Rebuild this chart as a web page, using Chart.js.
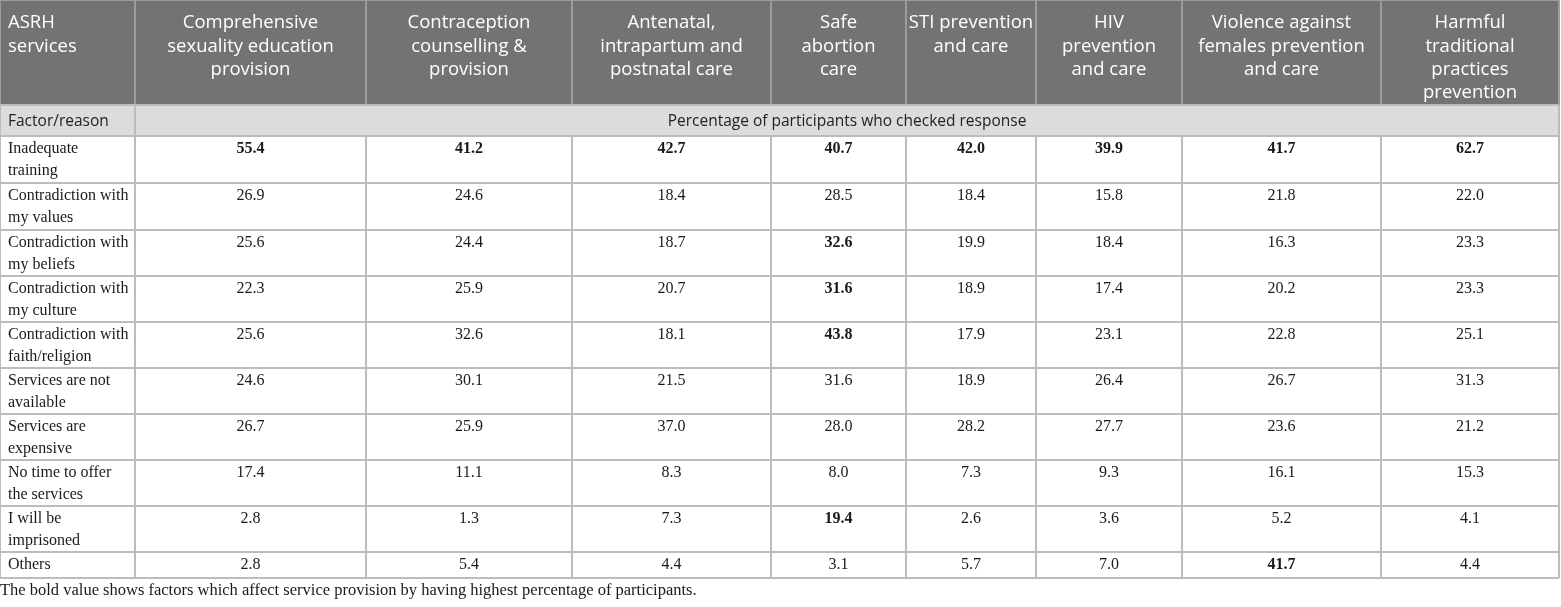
<!DOCTYPE html>
<html>
<head>
<meta charset="utf-8">
<script src="https://cdn.jsdelivr.net/npm/chart.js@4.4.1/dist/chart.umd.min.js"></script>
<style>
  html, body { margin: 0; padding: 0; background: #fff; }
  #wrap { width: 1561px; height: 607px; }
</style>
</head>
<body>
<div id="wrap"><canvas id="tbl" width="1561" height="607"></canvas></div>
<script>
// ---- table content ----
const cornerLabel = 'ASRH\nservices';
const services = [
  'Comprehensive\nsexuality education\nprovision',
  'Contraception\ncounselling &\nprovision',
  'Antenatal,\nintrapartum and\npostnatal care',
  'Safe\nabortion\ncare',
  'STI prevention\nand care',
  'HIV\nprevention\nand care',
  'Violence against\nfemales prevention\nand care',
  'Harmful\ntraditional\npractices\nprevention'
];
const rowHeaderLabel = 'Factor/reason';
const spanLabel = 'Percentage of participants who checked response';
const factors = [
  'Inadequate\ntraining',
  'Contradiction with\nmy values',
  'Contradiction with\nmy beliefs',
  'Contradiction with\nmy culture',
  'Contradiction with\nfaith/religion',
  'Services are not\navailable',
  'Services are\nexpensive',
  'No time to offer\nthe services',
  'I will be\nimprisoned',
  'Others'
];

// percentage per factor, one array per service
const cse           = [55.4, 26.9, 25.6, 22.3, 25.6, 24.6, 26.7, 17.4, 2.8, 2.8];
const contraception = [41.2, 24.6, 24.4, 25.9, 32.6, 30.1, 25.9, 11.1, 1.3, 5.4];
const antenatal     = [42.7, 18.4, 18.7, 20.7, 18.1, 21.5, 37.0, 8.3, 7.3, 4.4];
const safeAbortion  = [40.7, 28.5, 32.6, 31.6, 43.8, 31.6, 28.0, 8.0, 19.4, 3.1];
const sti           = [42.0, 18.4, 19.9, 18.9, 17.9, 18.9, 28.2, 7.3, 2.6, 5.7];
const hiv           = [39.9, 15.8, 18.4, 17.4, 23.1, 26.4, 27.7, 9.3, 3.6, 7.0];
const violence      = [41.7, 21.8, 16.3, 20.2, 22.8, 26.7, 23.6, 16.1, 5.2, 41.7];
const harmful       = [62.7, 22.0, 23.3, 23.3, 25.1, 31.3, 21.2, 15.3, 4.1, 4.4];

// [factor row, service column] printed in bold
const boldCells = [
  [0, 0], [0, 1], [0, 2], [0, 3], [0, 4], [0, 5], [0, 6], [0, 7],
  [2, 3], [3, 3], [4, 3], [8, 3], [9, 6]
];
const footnote = 'The bold value shows factors which affect service provision by having highest percentage of participants.';

const columns = [cse, contraception, antenatal, safeAbortion, sti, hiv, violence, harmful];

// ---- layout (relative units) ----
const colWidths = [135, 231, 206, 199, 135, 130, 146, 199, 178];
const rowHeights = [105, 31, 47, 47, 46, 46, 46, 46, 46, 46, 46, 26];

const cum = arr => arr.reduce((acc, w) => { acc.push(acc[acc.length - 1] + w); return acc; }, [0]);
const colEdges = cum(colWidths);
const rowEdges = cum(rowHeights);
const totalW = colEdges[colEdges.length - 1];
const totalH = rowEdges[rowEdges.length - 1];

const headFont = '18.5px "Open Sans"';
const subFont = '15.5px "Open Sans"';
const bodyFont = '16px "Liberation Serif"';
const bodyBold = 'bold 16px "Liberation Serif"';

const isBold = (r, c) => boldCells.some(b => b[0] === r && b[1] === c);

const tablePlugin = {
  id: 'tableCells',
  afterDraw(chart) {
    const { ctx, scales: { x, y } } = chart;
    const px = v => Math.round(x.getPixelForValue(v));
    const py = v => Math.round(y.getPixelForValue(v));
    const left = px(0), right = px(totalW);
    ctx.save();

    // backgrounds
    ctx.fillStyle = '#737373';
    ctx.fillRect(left, py(rowEdges[0]), right - left, py(rowEdges[1]) - py(rowEdges[0]));
    ctx.fillStyle = '#dcdcdc';
    ctx.fillRect(left, py(rowEdges[1]), right - left, py(rowEdges[2]) - py(rowEdges[1]));

    // grid lines
    ctx.lineWidth = 2;
    ctx.strokeStyle = '#9c9c9c';
    colEdges.forEach(e => {
      ctx.beginPath(); ctx.moveTo(px(e), py(rowEdges[0])); ctx.lineTo(px(e), py(rowEdges[1])); ctx.stroke();
    });
    ctx.beginPath(); ctx.moveTo(left, py(rowEdges[0])); ctx.lineTo(right, py(rowEdges[0])); ctx.stroke();

    ctx.strokeStyle = '#bcbcbc';
    [0, 1, colEdges.length - 1].forEach(i => {
      ctx.beginPath(); ctx.moveTo(px(colEdges[i]), py(rowEdges[1])); ctx.lineTo(px(colEdges[i]), py(rowEdges[2])); ctx.stroke();
    });
    colEdges.forEach(e => {
      ctx.beginPath(); ctx.moveTo(px(e), py(rowEdges[2])); ctx.lineTo(px(e), py(totalH)); ctx.stroke();
    });
    rowEdges.slice(1).forEach(e => {
      ctx.beginPath(); ctx.moveTo(left, py(e)); ctx.lineTo(right, py(e)); ctx.stroke();
    });

    // header text
    ctx.textBaseline = 'middle';
    ctx.font = headFont;
    ctx.fillStyle = '#ffffff';
    const headTop = py(rowEdges[0]);
    cornerLabel.split('\n').forEach((ln, i) => {
      ctx.textAlign = 'left';
      ctx.fillText(ln, px(colEdges[0]) + 8, headTop + 23 + i * 23.3);
    });
    services.forEach((s, c) => {
      const cx = (px(colEdges[c + 1]) + px(colEdges[c + 2])) / 2;
      s.split('\n').forEach((ln, i) => {
        ctx.textAlign = 'center';
        ctx.fillText(ln, cx, headTop + 23 + i * 23.3);
      });
    });

    // sub-header row
    ctx.font = subFont;
    ctx.fillStyle = '#222222';
    const subMid = (py(rowEdges[1]) + py(rowEdges[2])) / 2 + 1;
    ctx.textAlign = 'left';
    ctx.fillText(rowHeaderLabel, px(colEdges[0]) + 8, subMid);
    ctx.textAlign = 'center';
    ctx.fillText(spanLabel, (px(colEdges[1]) + right) / 2, subMid);

    // body
    factors.forEach((f, r) => {
      const top = py(rowEdges[r + 2]);
      ctx.font = bodyFont;
      ctx.fillStyle = '#1a1a1a';
      ctx.textAlign = 'left';
      f.split('\n').forEach((ln, i) => ctx.fillText(ln, px(colEdges[0]) + 8, top + 13 + i * 22));
      columns.forEach((col, c) => {
        ctx.font = isBold(r, c) ? bodyBold : bodyFont;
        ctx.textAlign = 'center';
        ctx.fillText(col[r].toFixed(1), (px(colEdges[c + 1]) + px(colEdges[c + 2])) / 2, top + 13);
      });
    });

    // footnote
    ctx.font = '16.5px "Liberation Serif"';
    ctx.fillStyle = '#1a1a1a';
    ctx.textAlign = 'left';
    ctx.fillText(footnote, left, py(totalH) + 13);
    ctx.restore();
  }
};

new Chart(document.getElementById('tbl'), {
  type: 'scatter',
  data: { datasets: [] },
  options: {
    responsive: false,
    animation: false,
    events: [],
    layout: { padding: { left: 0, top: 0, right: 2, bottom: 29 } },
    plugins: { legend: { display: false }, tooltip: { enabled: false } },
    scales: {
      x: { type: 'linear', min: 0, max: totalW, display: false },
      y: { type: 'linear', min: 0, max: totalH, reverse: true, display: false }
    }
  },
  plugins: [tablePlugin]
});
</script>
</body>
</html>
